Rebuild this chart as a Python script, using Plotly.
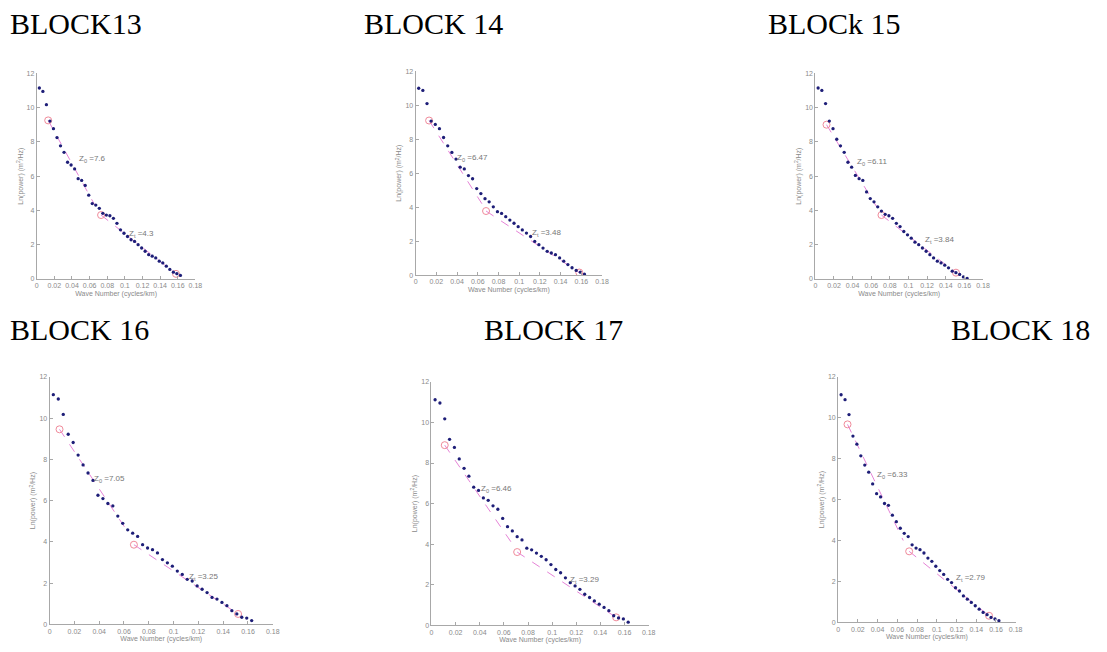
import plotly.graph_objects as go

# ---------------- data ----------------
TITLES = ["BLOCK13", "BLOCK 14", "BLOCk 15", "BLOCK 16", "BLOCK 17", "BLOCK 18"]

WAVENUMBER = [0.003, 0.007, 0.011, 0.015, 0.019, 0.023, 0.027, 0.031, 0.035, 0.039,
              0.043, 0.047, 0.051, 0.055, 0.059, 0.063, 0.067, 0.071, 0.075, 0.079,
              0.083, 0.087, 0.091, 0.095, 0.099, 0.103, 0.107, 0.111, 0.115, 0.119,
              0.123, 0.127, 0.131, 0.135, 0.139, 0.143, 0.147, 0.151, 0.155, 0.159,
              0.163]

LNP_13 = [11.14, 10.94, 10.17, 9.21, 8.77, 8.25, 7.77, 7.39, 6.81, 6.65, 6.42, 5.85, 5.75,
          5.46, 4.89, 4.40, 4.31, 4.12, 3.83, 3.73, 3.69, 3.54, 3.25, 2.87, 2.67, 2.48,
          2.29, 2.19, 2.00, 1.81, 1.62, 1.42, 1.33, 1.23, 1.04, 0.94, 0.75, 0.56, 0.40,
          0.31, 0.21]
LNP_14 = [11.00, 10.87, 10.10, 9.07, 8.87, 8.62, 8.10, 7.61, 7.22, 6.83, 6.35, 6.25, 5.86,
          5.67, 5.09, 4.80, 4.50, 4.31, 4.02, 3.73, 3.63, 3.44, 3.24, 3.05, 2.85, 2.66,
          2.47, 2.27, 1.98, 1.79, 1.59, 1.40, 1.30, 1.20, 1.01, 0.82, 0.62, 0.43, 0.27,
          0.17, 0.05]
LNP_15 = [11.14, 11.00, 10.23, 9.21, 8.77, 8.15, 7.77, 7.39, 6.81, 6.52, 6.04, 5.85, 5.75,
          5.08, 4.69, 4.50, 4.21, 3.96, 3.77, 3.69, 3.54, 3.25, 3.06, 2.77, 2.58, 2.38,
          2.15, 2.00, 1.81, 1.62, 1.42, 1.23, 1.04, 0.94, 0.81, 0.65, 0.46, 0.37, 0.27,
          0.12, 0.04]
LNP_16 = [11.14, 10.93, 10.18, 9.22, 8.82, 8.21, 7.73, 7.34, 6.98, 6.26, 6.10, 5.86, 5.74,
          5.25, 4.90, 4.58, 4.42, 4.26, 3.86, 3.70, 3.62, 3.46, 3.14, 2.98, 2.82, 2.58,
          2.42, 2.18, 2.10, 1.86, 1.70, 1.54, 1.30, 1.22, 1.06, 0.90, 0.66, 0.50, 0.34,
          0.30, 0.18]
LNP_17 = [11.12, 10.96, 10.18, 9.17, 8.77, 8.20, 7.74, 7.35, 6.81, 6.65, 6.28, 6.16, 5.89,
          5.72, 5.27, 4.86, 4.65, 4.37, 4.21, 3.80, 3.72, 3.56, 3.40, 3.23, 2.99, 2.75,
          2.59, 2.34, 2.10, 1.94, 1.77, 1.53, 1.37, 1.20, 1.04, 0.88, 0.72, 0.47, 0.36,
          0.31, 0.15]
LNP_18 = [11.13, 10.89, 10.16, 9.11, 8.71, 8.14, 7.69, 7.34, 6.77, 6.29, 6.13, 5.81, 5.72,
          5.24, 4.92, 4.60, 4.35, 4.19, 3.79, 3.63, 3.55, 3.39, 3.14, 2.98, 2.74, 2.53,
          2.34, 2.10, 1.94, 1.69, 1.53, 1.29, 1.13, 0.97, 0.81, 0.64, 0.48, 0.37, 0.24,
          0.16, 0.08]
SPECTRA = [LNP_13, LNP_14, LNP_15, LNP_16, LNP_17, LNP_18]

# fitted segments (low-wavenumber and high-wavenumber) : [start, end]
FIT1_X = [[0.013, 0.066], [0.013, 0.064], [0.012, 0.066], [0.008, 0.064], [0.011, 0.066], [0.0095, 0.066]]
FIT1_Y = [[9.25, 4.30], [9.10, 4.20], [9.00, 4.20], [9.46, 4.40], [8.88, 4.10], [9.68, 4.00]]
FIT2_X = [[0.073, 0.158], [0.068, 0.158], [0.071, 0.151], [0.068, 0.152], [0.071, 0.153], [0.072, 0.153]]
FIT2_Y = [[3.73, 0.30], [3.77, 0.15], [3.73, 0.37], [3.86, 0.50], [3.61, 0.39], [3.47, 0.32]]

# depth labels and their left-edge positions (x, y)
Z0_TEXT = ["7.6", "6.47", "6.11", "7.05", "6.46", "6.33"]
Z0_POS = [(0.046, 7.0), (0.038, 6.87), (0.043, 6.85), (0.034, 7.06), (0.039, 6.73), (0.037, 7.21)]
ZT_TEXT = ["4.3", "3.48", "3.84", "3.25", "3.29", "2.79"]
ZT_POS = [(0.102, 2.6), (0.110, 2.45), (0.116, 2.25), (0.111, 2.3), (0.113, 2.22), (0.117, 2.15)]

X_TICKS = [0, 0.02, 0.04, 0.06, 0.08, 0.1, 0.12, 0.14, 0.16, 0.18]
X_TICKTEXT = ["0", "0.02", "0.04", "0.06", "0.08", "0.1", "0.12", "0.14", "0.16", "0.18"]
Y_TICKS = [0, 2, 4, 6, 8, 10, 12]

X_LABEL = "Wave Number (cycles/km)"
Y_LABEL = "Ln(power) (m<sup>2</sup>/Hz)"

# ---------------- layout geometry (pixels) ----------------
W, H = 1107, 652
BOXES = [(35, 195, 70, 278), (417, 605, 68, 274), (820, 989, 70, 278),
         (48, 273, 377, 627), (433, 652, 382, 628), (843, 1022, 377, 625)]
TITLE_POS = [(6, 1), (363, 1), (770, 1), (6, 310), (484, 310), (955, 310)]

fig = go.Figure()
layout = dict(width=W, height=H, margin=dict(l=0, r=0, t=0, b=0),
              paper_bgcolor="white", plot_bgcolor="white", showlegend=False)
annotations = []

AX_COL = "#a8a8a8"
TXT_COL = "#8a8a8a"
DOT_COL = "#1e1e78"
FIT_COL = "rgba(220,90,200,0.75)"
CIRC_COL = "#f08a9a"

for i in range(6):
    xa = "x" if i == 0 else f"x{i+1}"
    ya = "y" if i == 0 else f"y{i+1}"
    l, r, t, b = BOXES[i]
    xk = "xaxis" if i == 0 else f"xaxis{i+1}"
    yk = "yaxis" if i == 0 else f"yaxis{i+1}"
    layout[xk] = dict(domain=[l / W, r / W], range=[0, 0.18], anchor=ya,
                      showline=True, linecolor=AX_COL, linewidth=1, mirror=False,
                      showgrid=False, zeroline=False, ticks="inside", ticklen=3,
                      tickcolor=AX_COL, tickvals=X_TICKS, ticktext=X_TICKTEXT,
                      tickfont=dict(size=7, color=TXT_COL, family="Liberation Sans"),
                      title=dict(text=X_LABEL, font=dict(size=7, color=TXT_COL, family="Liberation Sans"),
                                 standoff=2))
    layout[yk] = dict(domain=[1 - b / H, 1 - t / H], range=[0, 12], anchor=xa,
                      showline=True, linecolor=AX_COL, linewidth=1, mirror=False,
                      showgrid=False, zeroline=False, ticks="inside", ticklen=3,
                      tickcolor=AX_COL, tickvals=Y_TICKS,
                      tickfont=dict(size=7, color=TXT_COL, family="Liberation Sans"),
                      title=dict(text=Y_LABEL, font=dict(size=7, color=TXT_COL, family="Liberation Sans"),
                                 standoff=2))

    # fitted segments
    fig.add_trace(go.Scatter(x=FIT1_X[i], y=FIT1_Y[i], mode="lines", xaxis=xa, yaxis=ya,
                             line=dict(color=FIT_COL, width=1, dash="dash")))
    fig.add_trace(go.Scatter(x=FIT2_X[i], y=FIT2_Y[i], mode="lines", xaxis=xa, yaxis=ya,
                             line=dict(color=FIT_COL, width=1, dash="dash")))
    fig.add_trace(go.Scatter(x=[FIT1_X[i][0], FIT2_X[i][0], FIT2_X[i][1]],
                             y=[FIT1_Y[i][0], FIT2_Y[i][0], FIT2_Y[i][1]],
                             mode="markers", xaxis=xa, yaxis=ya,
                             marker=dict(symbol="circle-open", size=7, color=CIRC_COL,
                                         line=dict(width=1, color=CIRC_COL))))
    # spectrum points
    fig.add_trace(go.Scatter(x=WAVENUMBER, y=SPECTRA[i], mode="markers", xaxis=xa, yaxis=ya,
                             marker=dict(size=3.3, color=DOT_COL)))

    annotations.append(dict(text="Z<sub>0</sub> =" + Z0_TEXT[i], x=Z0_POS[i][0], y=Z0_POS[i][1],
                            xref=xa, yref=ya, showarrow=False, xanchor="left", yanchor="middle",
                            font=dict(size=8, color="#777777", family="Liberation Sans")))
    annotations.append(dict(text="Z<sub>t</sub> =" + ZT_TEXT[i], x=ZT_POS[i][0], y=ZT_POS[i][1],
                            xref=xa, yref=ya, showarrow=False, xanchor="left", yanchor="middle",
                            font=dict(size=8, color="#777777", family="Liberation Sans")))

    tx, ty = TITLE_POS[i]
    annotations.append(dict(text=TITLES[i], x=tx / W, y=1 - ty / H, xref="paper", yref="paper",
                            showarrow=False, xanchor="left", yanchor="top",
                            font=dict(size=30, color="black", family="Liberation Serif")))

layout["annotations"] = annotations
fig.update_layout(**layout)
fig.write_html("out.html", config={"displayModeBar": False},
               post_script="document.body.style.margin='0';")
